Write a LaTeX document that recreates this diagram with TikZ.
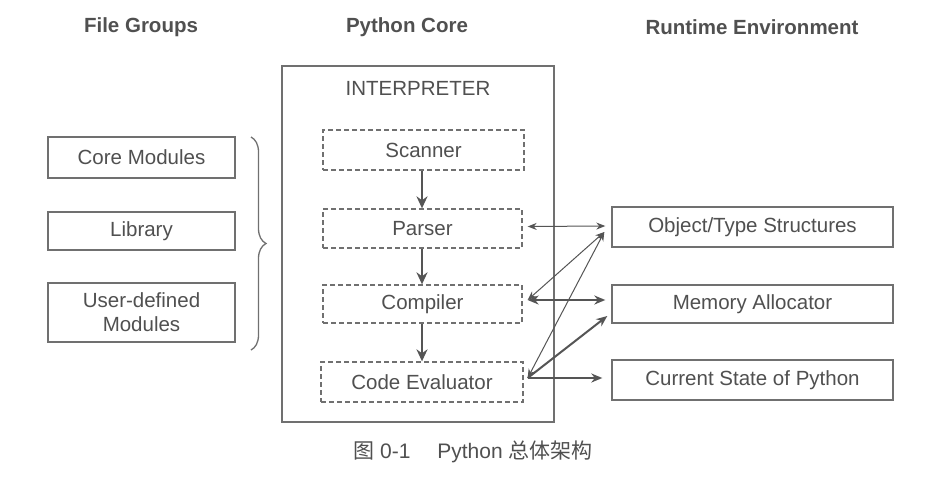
\documentclass[tikz,border=0pt]{standalone}
\usepackage{fontspec}
\setmainfont{Liberation Sans}
\newfontfamily\cjkfont{Noto Sans CJK SC}
\usetikzlibrary{arrows.meta,decorations.pathreplacing,calc}
\definecolor{txt}{HTML}{505050}
\definecolor{ln}{HTML}{707070}
\definecolor{arr}{HTML}{555555}
\tikzset{
  head/.style={font=\bfseries\fontsize{20.5}{24}\selectfont, text=txt},
  plainbox/.style={draw=ln, line width=1.4pt, text=txt, inner sep=0pt,
     font=\fontsize{20.5}{24}\selectfont, align=center},
  dashbox/.style={plainbox, dash pattern=on 5pt off 3pt, line width=1.3pt},
  flow/.style={draw=arr, line width=2.4pt, -{Stealth[length=12pt,width=11pt]}},
  thinlink/.style={draw=arr, line width=1pt, {Stealth[length=9pt,width=7pt]}-{Stealth[length=9pt,width=7pt]}},
  thicklink/.style={draw=arr, line width=2pt, {Stealth[length=11pt,width=9pt]}-{Stealth[length=11pt,width=9pt]}},
  onelink/.style={draw=arr, line width=2pt, -{Stealth[length=11pt,width=9pt]}}
}
\begin{document}
\begin{tikzpicture}[x=1pt,y=-1pt]
\fill[white] (0,0) rectangle (944,479);
\useasboundingbox (0,0) rectangle (944,479);

% headers
\node[head] (hfg) at (141,27) {File Groups};
\node[head] (hpc) at (407,27) {Python Core};
\node[head] (hre) at (752,27) {Runtime Environment};

% file groups
\node[plainbox, minimum width=187pt, minimum height=41pt] (core) at (141.5,157.5) {Core Modules};
\node[plainbox, minimum width=187pt, minimum height=38pt] (lib) at (141.5,231) {Library};
\node[plainbox, minimum width=187pt, minimum height=59pt] (user) at (141.5,312.5) {User-defined\\[0pt]Modules};
\coordinate (br1) at (251,137);
\coordinate (br2) at (251,350);
\draw[draw=ln, line width=1.3pt, decorate, decoration={brace, amplitude=15pt}] (br1) -- (br2);

% interpreter
\node[draw=ln, line width=1.5pt, minimum width=272pt, minimum height=356pt, inner sep=0pt] (interp) at (418,244) {};
\node[text=txt, font=\fontsize{20.5}{24}\selectfont] (ilabel) at (418,88) {INTERPRETER};
\node[dashbox, minimum width=201pt, minimum height=40pt] (scan) at (423.5,150) {Scanner};
\node[dashbox, minimum width=199pt, minimum height=39pt] (pars) at (422.5,228.5) {Parser};
\node[dashbox, minimum width=199pt, minimum height=38pt] (comp) at (422.5,304) {Compiler};
\node[dashbox, minimum width=202pt, minimum height=40pt] (eval) at (422,382) {Code Evaluator};

\draw[flow] (scan.south -| 422,0) -- (pars.north -| 422,0);
\draw[flow] (pars.south -| 422,0) -- (comp.north -| 422,0);
\draw[flow] (comp.south -| 422,0) -- (eval.north -| 422,0);

% runtime environment
\node[plainbox, minimum width=281pt, minimum height=40pt] (obj) at (752.5,227) {Object/Type Structures};
\node[plainbox, minimum width=281pt, minimum height=38pt] (mem) at (752.5,304) {Memory Allocator};
\node[plainbox, minimum width=281pt, minimum height=40pt] (state) at (752.5,380) {Current State of Python};

% connectors
\coordinate (pE) at ($(pars.east)+(5,-2)$);
\coordinate (cE) at ($(comp.east)+(5,-4)$);
\coordinate (eE) at ($(eval.east)+(4,-4)$);
\coordinate (oW) at ($(obj.west)+(-6,-1)$);
\coordinate (oD) at ($(obj.west)+(-7,5)$);
\coordinate (mW) at ($(mem.west)+(-6,-4)$);
\coordinate (mD) at ($(mem.west)+(-4,12)$);
\coordinate (sW) at ($(state.west)+(-9,-2)$);

\draw[thinlink] (pE) -- (oW);
\draw[thicklink] (cE) -- (mW);
\draw[thinlink] (cE) -- (oD);
\draw[thinlink] (eE) -- (oD);
\draw[onelink] (eE) -- (mD);
\draw[onelink] (eE) -- (sW);

% caption
\node[text=txt, font=\fontsize{21}{24}\selectfont] (cap) at (473,452) {{\cjkfont 图} 0-1\quad\ Python {\cjkfont 总体架构}};
\end{tikzpicture}
\end{document}
